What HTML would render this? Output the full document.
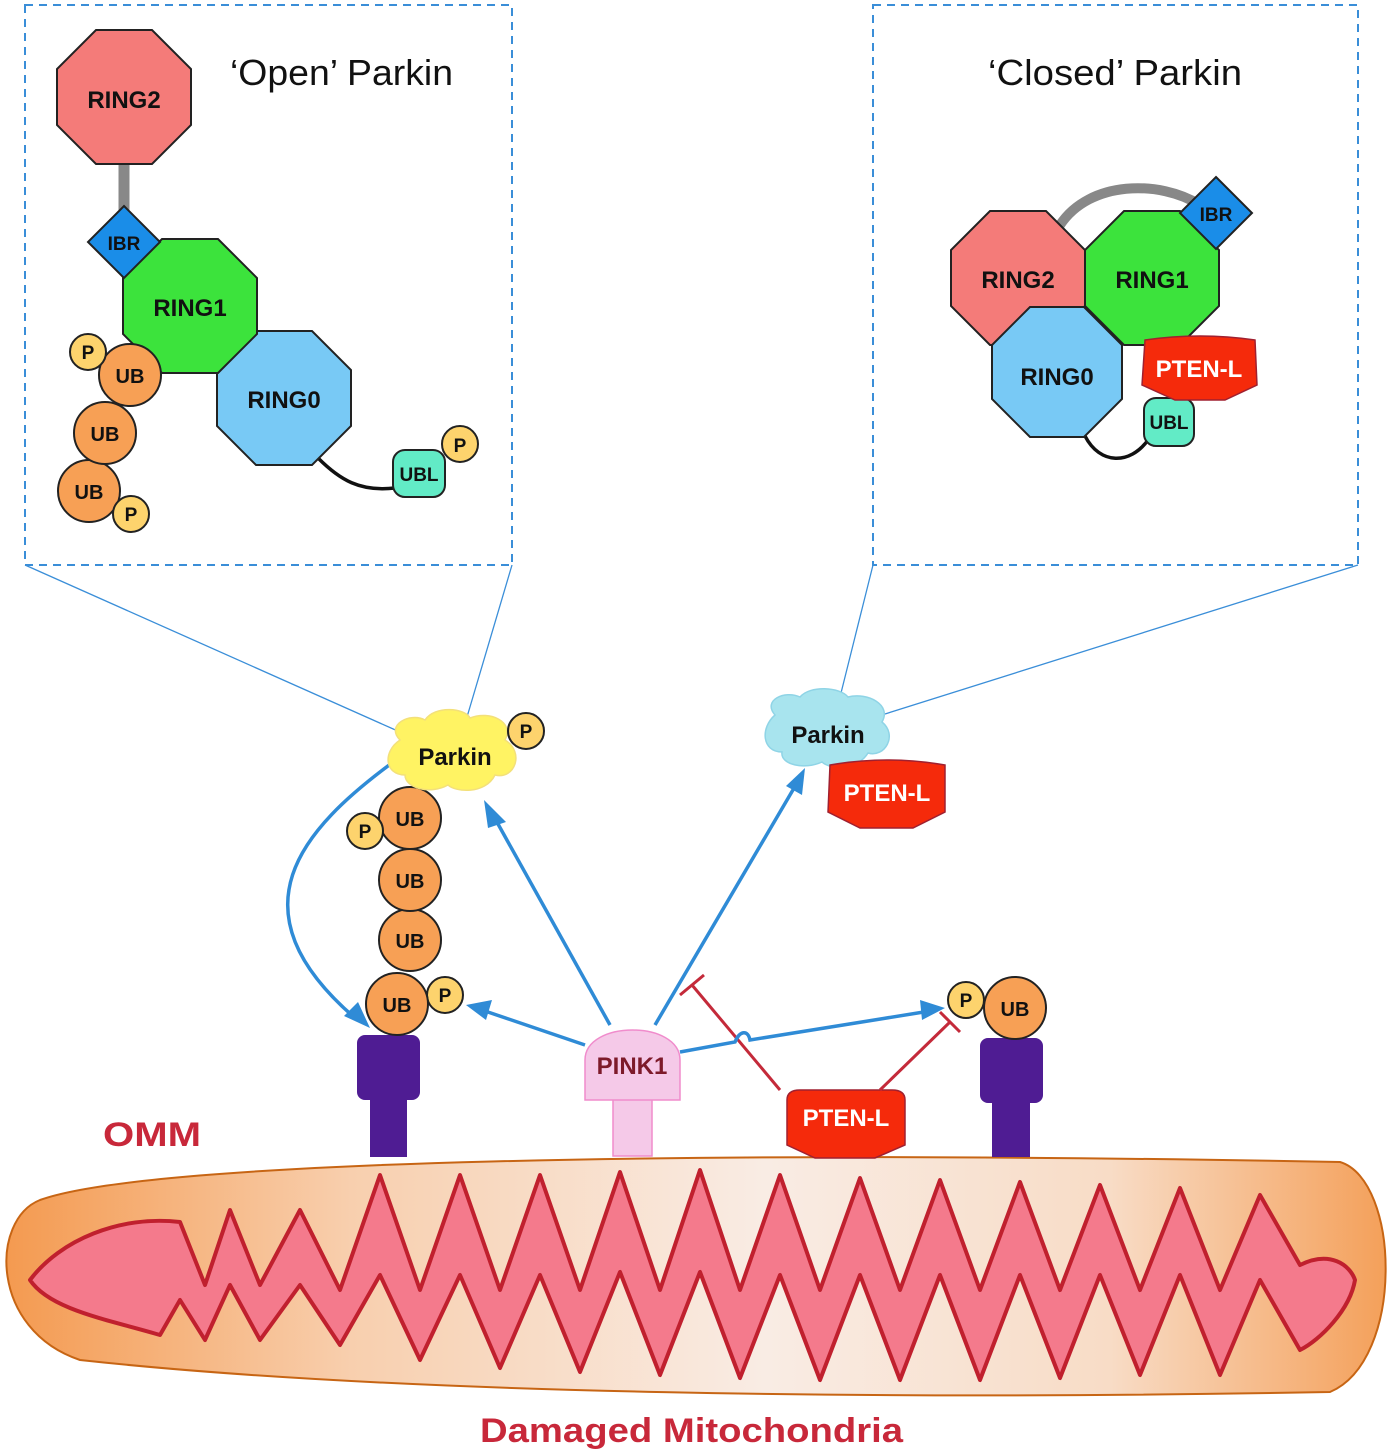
<!DOCTYPE html>
<html><head><meta charset="utf-8"><style>
html,body{margin:0;padding:0;background:#fff}
svg{display:block}
text{font-family:"Liberation Sans",Arial,sans-serif}
.b{font-weight:bold;fill:#111;text-anchor:middle}
</style></head><body>
<svg width="1400" height="1455" viewBox="0 0 1400 1455" xmlns="http://www.w3.org/2000/svg">
<defs>
<linearGradient id="mg" x1="0" x2="1" y1="0" y2="0">
<stop offset="0" stop-color="#f49a50"/>
<stop offset="0.25" stop-color="#f8cfae"/>
<stop offset="0.55" stop-color="#f9ece4"/>
<stop offset="0.8" stop-color="#f8dcc6"/>
<stop offset="1" stop-color="#f4a05a"/>
</linearGradient>
</defs>

<!-- dashed boxes -->
<rect x="25" y="5" width="487" height="560" fill="none" stroke="#3a8ed8" stroke-width="2" stroke-dasharray="8,6"/>
<rect x="873" y="5" width="485" height="560" fill="none" stroke="#3a8ed8" stroke-width="2" stroke-dasharray="8,6"/>
<g stroke="#3a8ed8" stroke-width="1.3">
<line x1="25" y1="565" x2="400" y2="732"/>
<line x1="512" y1="565" x2="467" y2="717"/>
<line x1="873" y1="565" x2="840" y2="697"/>
<line x1="1358" y1="565" x2="885" y2="714"/>
</g>

<text x="230" y="85" font-size="36" fill="#111" textLength="223" lengthAdjust="spacingAndGlyphs">‘Open’ Parkin</text>
<text x="988" y="85" font-size="36" fill="#111" textLength="254" lengthAdjust="spacingAndGlyphs">‘Closed’ Parkin</text>

<!-- Left open parkin -->
<line x1="124" y1="160" x2="124" y2="212" stroke="#888" stroke-width="11"/>
<path d="M318,458 C340,480 360,492 395,488" fill="none" stroke="#111" stroke-width="3.5"/>
<polygon points="96,30 152,30 191,69 191,125 152,164 96,164 57,125 57,69" fill="#f47b79" stroke="#222" stroke-width="2"/>
<text x="124" y="108" font-size="24" class="b">RING2</text>
<polygon points="256,331 312,331 351,370 351,426 312,465 256,465 217,426 217,370" fill="#78c9f5" stroke="#222" stroke-width="2"/>
<text x="284" y="408" font-size="24" class="b">RING0</text>
<polygon points="162,239 218,239 257,278 257,334 218,373 162,373 123,334 123,278" fill="#3ce33c" stroke="#222" stroke-width="2"/>
<text x="190" y="316" font-size="24" class="b">RING1</text>
<polygon points="124,206 160,242 124,278 88,242" fill="#1a8de8" stroke="#222" stroke-width="2"/>
<text x="124" y="250" font-size="19" class="b">IBR</text>
<rect x="393" y="450" width="52" height="47" rx="12" fill="#62ebc6" stroke="#222" stroke-width="2"/>
<text x="419" y="481" font-size="19" class="b">UBL</text>
<circle cx="460" cy="444" r="18" fill="#fdd36d" stroke="#222" stroke-width="2"/>
<text x="460" y="452" font-size="19" class="b">P</text>
<g stroke="#222" stroke-width="2">
<circle cx="89" cy="491" r="31" fill="#f7a055"/>
<circle cx="131" cy="514" r="18" fill="#fdd36d"/>
<circle cx="105" cy="433" r="31" fill="#f7a055"/>
<circle cx="130" cy="375" r="31" fill="#f7a055"/>
<circle cx="88" cy="352" r="18" fill="#fdd36d"/>
</g>
<text x="89" y="499" font-size="20" class="b">UB</text>
<text x="131" y="521" font-size="19" class="b">P</text>
<text x="105" y="441" font-size="20" class="b">UB</text>
<text x="130" y="383" font-size="20" class="b">UB</text>
<text x="88" y="359" font-size="19" class="b">P</text>

<!-- Right closed parkin -->
<path d="M1060,225 C1090,180 1160,180 1200,205" fill="none" stroke="#888" stroke-width="10"/>
<path d="M1085,436 C1100,465 1130,465 1148,440" fill="none" stroke="#111" stroke-width="3.5"/>
<polygon points="990,211 1046,211 1085,250 1085,306 1046,345 990,345 951,306 951,250" fill="#f47b79" stroke="#222" stroke-width="2"/>
<text x="1018" y="288" font-size="24" class="b">RING2</text>
<polygon points="1124,211 1180,211 1219,250 1219,306 1180,345 1124,345 1085,306 1085,250" fill="#3ce33c" stroke="#222" stroke-width="2"/>
<text x="1152" y="288" font-size="24" class="b">RING1</text>
<polygon points="1030,307 1084,307 1122,345 1122,399 1084,437 1030,437 992,399 992,345" fill="#78c9f5" stroke="#222" stroke-width="2"/>
<text x="1057" y="385" font-size="24" class="b">RING0</text>
<polygon points="1216,177 1252,213 1216,249 1180,213" fill="#1a8de8" stroke="#222" stroke-width="2"/>
<text x="1216" y="221" font-size="19" class="b">IBR</text>
<rect x="1144" y="398" width="50" height="48" rx="12" fill="#62ebc6" stroke="#222" stroke-width="2"/>
<text x="1169" y="429" font-size="19" class="b">UBL</text>
<path d="M1145,340 Q1200,332 1255,340 L1257,385 L1225,400 L1175,400 L1142,385 Z" fill="#f52a0b" stroke="#a02030" stroke-width="1.5"/>
<text x="1199" y="377" font-size="24" font-weight="bold" fill="#fff" text-anchor="middle">PTEN-L</text>

<!-- mitochondrion -->
<path d="M40,1200 C150,1160 700,1150 1340,1162 C1400,1180 1405,1360 1330,1392 C900,1400 400,1395 80,1360 C-10,1330 -10,1220 40,1200 Z" fill="url(#mg)" stroke="#c76514" stroke-width="2"/>
<path d="M30,1280 C60,1240 120,1215 180,1222 L205,1285 L230,1210 L260,1285 L300,1210 L340,1290 L380,1175 L420,1290 L460,1175 L500,1290 L540,1175 L580,1290 L620,1172 L660,1290 L700,1170 L740,1290 L780,1175 L820,1290 L860,1178 L900,1290 L940,1180 L980,1290 L1020,1182 L1060,1290 L1100,1185 L1140,1290 L1180,1188 L1220,1290 L1260,1195 L1300,1265 C1330,1250 1350,1265 1355,1280 C1350,1310 1320,1340 1300,1350 L1260,1280 L1220,1375 L1180,1275 L1140,1375 L1100,1275 L1060,1378 L1020,1275 L980,1380 L940,1275 L900,1380 L860,1275 L820,1380 L780,1275 L740,1378 L700,1272 L660,1375 L620,1272 L580,1372 L540,1275 L500,1368 L460,1275 L420,1360 L380,1275 L340,1345 L300,1285 L260,1340 L230,1285 L205,1340 L180,1300 L160,1335 C110,1320 50,1310 30,1280 Z" fill="#f47a8c" stroke="#c0202e" stroke-width="4" stroke-linejoin="round"/>

<text x="103" y="1146" font-size="34" font-weight="bold" fill="#c8283a" textLength="98" lengthAdjust="spacingAndGlyphs">OMM</text>
<text x="480" y="1442" font-size="34" font-weight="bold" fill="#c8283a" textLength="423" lengthAdjust="spacingAndGlyphs">Damaged Mitochondria</text>

<!-- receptors -->
<g fill="#4f1c93">
<rect x="357" y="1035" width="63" height="65" rx="8"/>
<rect x="370" y="1095" width="37" height="62"/>
<rect x="980" y="1038" width="63" height="65" rx="8"/>
<rect x="992" y="1098" width="38" height="59"/>
</g>

<!-- PINK1 -->
<rect x="613" y="1098" width="39" height="58" fill="#f5c9e8" stroke="#f08ccc" stroke-width="1.5"/>
<path d="M585,1100 L585,1060 C585,1020 680,1020 680,1060 L680,1100 Z" fill="#f5c9e8" stroke="#f08ccc" stroke-width="1.5"/>
<text x="632" y="1074" font-size="24" font-weight="bold" fill="#7d1a2a" text-anchor="middle">PINK1</text>

<!-- PTEN-L bottom -->
<path d="M787,1100 Q787,1090 800,1090 L892,1090 Q905,1090 905,1100 L905,1145 L875,1158 L815,1158 L787,1145 Z" fill="#f52a0b" stroke="#a02030" stroke-width="1.5"/>
<text x="846" y="1126" font-size="24" font-weight="bold" fill="#fff" text-anchor="middle">PTEN-L</text>

<!-- inhibition lines -->
<g stroke="#c42a3a" stroke-width="3" fill="none">
<line x1="780" y1="1090" x2="692" y2="985"/>
<line x1="680" y1="995" x2="704" y2="975"/>
<line x1="880" y1="1090" x2="950" y2="1022"/>
<line x1="940" y1="1012" x2="960" y2="1032"/>
</g>

<!-- blue arrows -->
<g stroke="#2f8bd6" stroke-width="3.5" fill="none">
<line x1="610" y1="1025" x2="493" y2="815"/>
<line x1="655" y1="1025" x2="797" y2="783"/>
<line x1="585" y1="1045" x2="482" y2="1010"/>
<path d="M680,1052 L735,1042 C740,1030 748,1030 750,1040 L930,1011"/>
<path d="M396,760 C300,830 230,910 355,1018"/>
</g>
<g fill="#2f8bd6">
<polygon points="484,800 506,822 488,828"/>
<polygon points="805,768 802,795 786,786"/>
<polygon points="466,1005 492,1000 486,1020"/>
<polygon points="945,1008 920,1000 922,1020"/>
<polygon points="370,1028 344,1016 358,1002"/>
</g>

<!-- UB chain main -->
<g stroke="#222" stroke-width="2">
<circle cx="410" cy="940" r="31" fill="#f7a055"/>
<circle cx="410" cy="880" r="31" fill="#f7a055"/>
<circle cx="410" cy="818" r="31" fill="#f7a055"/>
<circle cx="365" cy="831" r="18" fill="#fdd36d"/>
<circle cx="445" cy="995" r="18" fill="#fdd36d"/>
<circle cx="397" cy="1004" r="31" fill="#f7a055"/>
<circle cx="966" cy="1000" r="18" fill="#fdd36d"/>
<circle cx="1015" cy="1008" r="31" fill="#f7a055"/>
</g>
<text x="410" y="948" font-size="20" class="b">UB</text>
<text x="410" y="888" font-size="20" class="b">UB</text>
<text x="410" y="826" font-size="20" class="b">UB</text>
<text x="365" y="838" font-size="19" class="b">P</text>
<text x="445" y="1002" font-size="19" class="b">P</text>
<text x="397" y="1012" font-size="20" class="b">UB</text>
<text x="966" y="1007" font-size="19" class="b">P</text>
<text x="1015" y="1016" font-size="20" class="b">UB</text>

<!-- Parkin clouds -->
<path d="M400,740 C385,725 410,712 425,720 C435,705 465,708 470,718 C490,710 515,722 505,740 C525,752 515,780 495,775 C485,795 455,792 448,785 C430,795 405,788 405,775 C385,775 382,752 400,740 Z" fill="#fff363" stroke="#f3e07a" stroke-width="1.5"/>
<text x="455" y="765" font-size="24" class="b">Parkin</text>
<circle cx="526" cy="731" r="18" fill="#fdd36d" stroke="#222" stroke-width="2"/>
<text x="526" y="738" font-size="19" class="b">P</text>
<path d="M775,715 C762,700 785,690 800,697 C810,685 840,687 848,697 C868,692 892,705 882,722 C898,735 885,758 868,753 C858,770 830,770 822,762 C805,770 780,765 782,752 C762,752 760,728 775,715 Z" fill="#a8e4ee" stroke="#8fd4e6" stroke-width="1.5"/>
<text x="828" y="743" font-size="24" class="b">Parkin</text>
<path d="M830,765 Q887,755 945,765 L945,812 L913,828 L860,828 L828,812 Z" fill="#f52a0b" stroke="#a02030" stroke-width="1.5"/>
<text x="887" y="801" font-size="24" font-weight="bold" fill="#fff" text-anchor="middle">PTEN-L</text>
</svg>
</body></html>
